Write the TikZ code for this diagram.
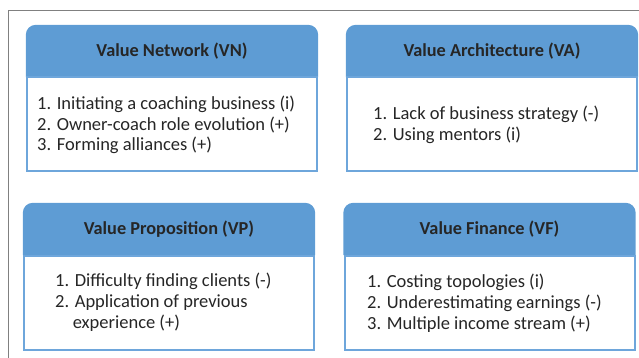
\documentclass[tikz,border=0pt]{standalone}
\usepackage{fontspec}
\setmainfont{Carlito}
\usetikzlibrary{backgrounds}
\definecolor{hdrblue}{RGB}{94,156,212}
\definecolor{edgeblue}{RGB}{110,166,219}
\definecolor{txt}{RGB}{38,38,38}
\definecolor{framegray}{RGB}{128,128,128}
\tikzset{
  hdr/.style={minimum width=292pt, minimum height=52pt, inner sep=0pt, font=\fontsize{18.3}{20}\selectfont\bfseries, text=txt},
  bodybox/.style={draw=edgeblue, line width=2pt, fill=white, minimum width=290pt, minimum height=94pt, inner sep=0pt},
  bodytext/.style={anchor=west, align=left, inner sep=0pt, font=\fontsize{18.5}{20.8}\selectfont, text=txt},
  hdrfill/.style={fill=hdrblue, rounded corners=10pt},
  frameline/.style={draw=framegray, line width=1.5pt}
}
\begin{document}
\begin{tikzpicture}[x=1pt,y=-1pt]
\useasboundingbox (0,0) rectangle (639,358);
\draw[frameline] (639,10.5) -- (8.5,10.5) -- (8.5,358);
% VN
\node[bodybox] (vnb) at (172,124.5) {};
\node[hdr] (vnh) at (172,51) {Value Network (VN)};
\node[bodytext] (vnt) at (37,125) {1. Initiating a coaching business (i)\\2. Owner-coach role evolution (+)\\3. Forming alliances (+)};
% VA
\node[bodybox] (vab) at (492,124.5) {};
\node[hdr] (vah) at (492,51) {Value Architecture (VA)};
\node[bodytext] (vat) at (373,125) {1. Lack of business strategy (-)\\2. Using mentors (i)};
% VP
\node[bodybox] (vpb) at (169,303) {};
\node[hdr] (vph) at (169,229) {Value Proposition (VP)};
\node[bodytext] (vpt) at (55,302) {1. Difficulty finding clients (-)\\2. Application of previous\\\hspace*{0.95em}experience (+)};
% VF
\node[bodybox] (vfb) at (489.5,303) {};
\node[hdr] (vfh) at (489.5,229) {Value Finance (VF)};
\node[bodytext] (vft) at (367,303) {1. Costing topologies (i)\\2. Underestimating earnings (-)\\3. Multiple income stream (+)};
\begin{pgfonlayer}{background}
\foreach \h in {vnh,vah,vph,vfh}{
  \fill[hdrfill] (\h.south west) -- (\h.north west) -- (\h.north east) [sharp corners] -- (\h.south east) -- cycle;
}
\end{pgfonlayer}
\end{tikzpicture}
\end{document}
